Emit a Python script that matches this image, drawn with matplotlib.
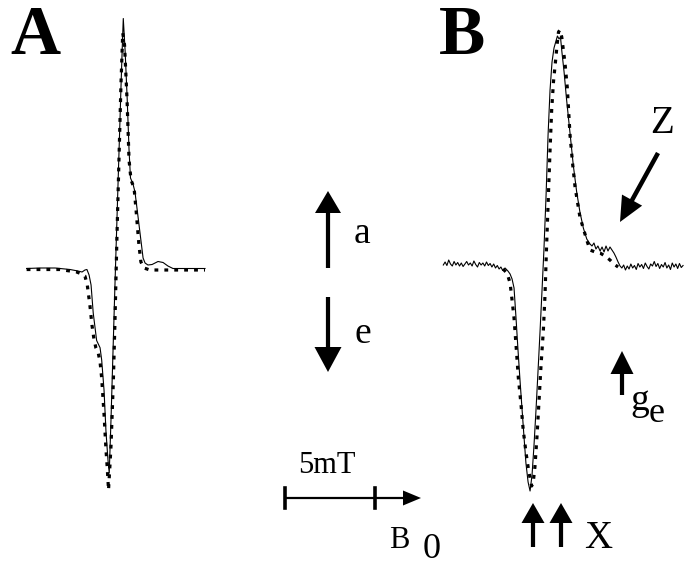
import numpy as np
import matplotlib
matplotlib.use("Agg")
import matplotlib.pyplot as plt

plt.rcParams['font.family'] = ['Liberation Serif', 'DejaVu Serif']

# field offset from the centre line (mT) and normalised EPR signal
# panel A: experiment (solid) and simulation (dotted)
a_exp_field = [-4.91, -4.17, -3.33, -2.50, -2.06, -1.83, -1.67, -1.56, -1.44, -1.33,
               -1.21, -1.02, -0.83, -0.74, -0.61, -0.50, -0.39, -0.32, -0.22, -0.11,
               0.00, 0.11, 0.22, 0.33, 0.42, 0.46, 0.56, 0.68, 0.78, 0.86,
               1.00, 1.11, 1.22, 1.39, 1.56, 1.67, 1.83, 2.06, 2.39, 2.67,
               2.94, 3.22, 4.17, 5.00]
a_exp_signal = [0.0, 0.002, 0.002, -0.004, -0.010, -0.014, -0.006, -0.004, -0.026, -0.066,
                -0.178, -0.288, -0.317, -0.366, -0.486, -0.654, -0.766, -0.818, -0.60, -0.33,
                -0.06, 0.20, 0.46, 0.72, 0.92, 1.00, 0.874, 0.674, 0.474, 0.362,
                0.338, 0.306, 0.242, 0.142, 0.042, 0.022, 0.014, 0.016, 0.028, 0.024,
                0.010, 0.0, 0.0, 0.0]

a_sim_field = [-4.91, -3.06, -2.13, -1.85, -1.67, -1.54, -1.39, -1.28, -1.17, -1.06,
               -0.93, -0.83, -0.74, -0.61, -0.50, -0.43, -0.36, -0.28, -0.22, -0.15,
               -0.09, 0.00, 0.11, 0.22, 0.33, 0.43, 0.53, 0.67, 0.78, 0.89,
               1.06, 1.17, 1.33, 1.44, 1.61, 1.94, 3.06, 5.00]
a_sim_signal = [-0.004, -0.004, -0.014, -0.022, -0.030, -0.066, -0.150, -0.226, -0.282, -0.318,
                -0.338, -0.374, -0.438, -0.582, -0.726, -0.798, -0.886, -0.786, -0.706, -0.566,
                -0.446, -0.206, 0.134, 0.434, 0.734, 0.942, 0.894, 0.674, 0.434, 0.354,
                0.322, 0.234, 0.094, 0.026, 0.002, -0.006, -0.006, -0.006]

# panel B: noisy experiment (solid) and simulation (dotted)
b_exp_field = [-5.65, -5.55, -5.45, -5.35, -5.25, -5.15, -5.05, -4.95, -4.85, -4.75,
               -4.65, -4.55, -4.45, -4.35, -4.25, -4.15, -4.05, -3.95, -3.85, -3.75,
               -3.65, -3.55, -3.45, -3.35, -3.25, -3.15, -3.05, -2.95, -2.85, -2.75,
               -2.65, -2.55, -2.45, -2.35,
               -2.22, -2.06, -1.94, -1.83, -1.72, -1.61, -1.50, -1.39, -1.28, -1.17,
               -1.06, -0.94, -0.83, -0.72, -0.61, -0.50, -0.39, -0.28, -0.17, -0.06,
               0.06, 0.17, 0.28, 0.39, 0.50, 0.61, 0.69, 0.78, 0.86, 0.94,
               1.06, 1.19, 1.39, 1.57, 1.76, 1.94, 2.13, 2.32, 2.50, 2.61,
               2.72, 2.83, 2.94, 3.06, 3.17, 3.28, 3.39, 3.50, 3.61, 3.72,
               3.83, 3.94, 4.06, 4.17,
               4.27, 4.37, 4.47, 4.57, 4.67, 4.77, 4.87, 4.97, 5.07, 5.17,
               5.27, 5.37, 5.47, 5.57, 5.67, 5.77, 5.87, 5.97, 6.07, 6.17,
               6.27, 6.37, 6.47, 6.57, 6.67, 6.77, 6.87, 6.97, 7.07, 7.17,
               7.27, 7.37, 7.47, 7.57, 7.67]
b_exp_signal = [0.008, 0.020, 0.006, 0.028, 0.012, 0.004, 0.022, 0.008, 0.018, 0.004,
                0.016, 0.002, 0.012, 0.022, 0.008, 0.016, 0.004, 0.024, 0.010, 0.0,
                0.018, 0.008, 0.016, 0.004, 0.020, 0.006, 0.014, 0.0, 0.012, -0.004,
                0.006, -0.008, 0.0, -0.014,
                -0.004, -0.016, -0.028, -0.048, -0.084, -0.204, -0.332, -0.452, -0.564, -0.676,
                -0.784, -0.860, -0.896, -0.832, -0.712, -0.572, -0.420, -0.264, -0.100, 0.068,
                0.288, 0.528, 0.708, 0.820, 0.876, 0.904, 0.924, 0.912, 0.920, 0.860,
                0.780, 0.676, 0.536, 0.408, 0.300, 0.220, 0.156, 0.112, 0.092, 0.084,
                0.096, 0.072, 0.084, 0.064, 0.080, 0.060, 0.084, 0.064, 0.080, 0.068,
                0.056, 0.040, 0.020, 0.004,
                -0.004, 0.008, -0.012, 0.004, -0.008, 0.012, -0.004, 0.006, -0.010, 0.014,
                0.0, 0.010, -0.006, 0.016, 0.002, -0.008, 0.012, 0.004, 0.022, 0.002,
                0.014, -0.006, 0.010, 0.0, 0.018, -0.004, 0.008, -0.010, 0.016, 0.0,
                0.012, -0.006, 0.014, -0.002, 0.006]

b_sim_field = [-2.33, -2.17, -2.06, -1.94, -1.83, -1.72, -1.61, -1.48, -1.33, -1.21,
               -1.06, -0.93, -0.83, -0.74, -0.64, -0.56, -0.44, -0.33, -0.22, -0.09,
               0.00, 0.08, 0.18, 0.28, 0.37, 0.47, 0.58, 0.67, 0.75, 0.83,
               0.93, 1.02, 1.11, 1.24, 1.39, 1.53, 1.67, 1.94, 2.32, 2.50,
               2.78, 3.06, 3.33, 3.61, 3.83, 4.06]
b_sim_signal = [-0.008, -0.020, -0.036, -0.064, -0.132, -0.204, -0.312, -0.444, -0.552, -0.652,
                -0.740, -0.804, -0.844, -0.876, -0.852, -0.800, -0.672, -0.532, -0.392, -0.252,
                -0.112, 0.068, 0.268, 0.468, 0.628, 0.740, 0.820, 0.888, 0.940, 0.948,
                0.920, 0.868, 0.816, 0.716, 0.528, 0.416, 0.320, 0.200, 0.108, 0.068,
                0.060, 0.056, 0.044, 0.028, 0.012, 0.0]

W, H = 686, 565
fig = plt.figure(figsize=(W / 100, H / 100), dpi=100)

sim_style = dict(color='black', lw=2.3, linestyle=(0, (1.2, 1.9)))
exp_style = dict(color='black', lw=0.8)

# panel A, 18 px per mT, 250 px per signal unit
axA = fig.add_axes([0, 0, 230 / W, 1])
axA.plot(a_exp_field, a_exp_signal, **exp_style)
axA.plot(a_sim_field, a_sim_signal, **sim_style)
axA.set_xlim(-115 / 18, 115 / 18)
axA.set_ylim(-296.5 / 250, 268.5 / 250)
axA.axis('off')

# panel B
axB = fig.add_axes([430 / W, 0, 256 / W, 1])
axB.plot(b_exp_field, b_exp_signal, **exp_style)
axB.plot(b_sim_field, b_sim_signal, **sim_style)
axB.set_xlim(-115 / 18, 141 / 18)
axB.set_ylim(-298 / 250, 267 / 250)
axB.axis('off')

# overlay for labels and arrows, in pixels from the top left
ov = fig.add_axes([0, 0, 1, 1], zorder=5)
ov.set_xlim(0, W)
ov.set_ylim(H, 0)
ov.axis('off')
ov.patch.set_alpha(0)


def arrow(x0, y0, x1, y1, w=4.2, hw=26, hl=22):
    ov.arrow(x0, y0, x1 - x0, y1 - y0, width=w, head_width=hw, head_length=hl,
             length_includes_head=True, color='black', lw=0)


ov.text(10, 54, 'A', fontsize=50, fontweight='bold', va='baseline')
ov.text(439, 54, 'B', fontsize=50, fontweight='bold', va='baseline')

# absorption / emission key
arrow(328, 268, 328, 191)
ov.text(354, 243, 'a', fontsize=27, va='baseline')
arrow(328, 297, 328, 372, hl=25, hw=27)
ov.text(355, 343, 'e', fontsize=27, va='baseline')

# 5 mT scale bar and field direction
ov.plot([285, 405], [498, 498], color='black', lw=1.6, solid_capstyle='butt')
ov.plot([285, 285], [488, 508], color='black', lw=2.6)
ov.plot([375, 375], [488, 508], color='black', lw=2.6)
arrow(400, 498, 421, 498, w=2, hw=15, hl=18)
ov.text(298, 473, '5mT', fontsize=22, va='baseline')
ov.text(389, 548, 'B', fontsize=22, va='baseline')
ov.text(423, 558, '0', fontsize=26, va='baseline')

# markers on panel B
arrow(533, 547, 533, 503, hw=23, hl=20)
arrow(561, 547, 561, 503, hw=23, hl=20)
ov.text(584, 548, 'X', fontsize=28, va='baseline')
arrow(622, 395, 622, 351, hw=23, hl=23)
ov.text(630, 410, 'g', fontsize=27, va='baseline')
ov.text(649, 422, 'e', fontsize=26, va='baseline')
arrow(658, 153, 620, 222, w=4.5, hw=23, hl=25)
ov.text(662, 133, 'Z', fontsize=28, va='baseline', ha='center')

fig.savefig('out.png', dpi=100)
